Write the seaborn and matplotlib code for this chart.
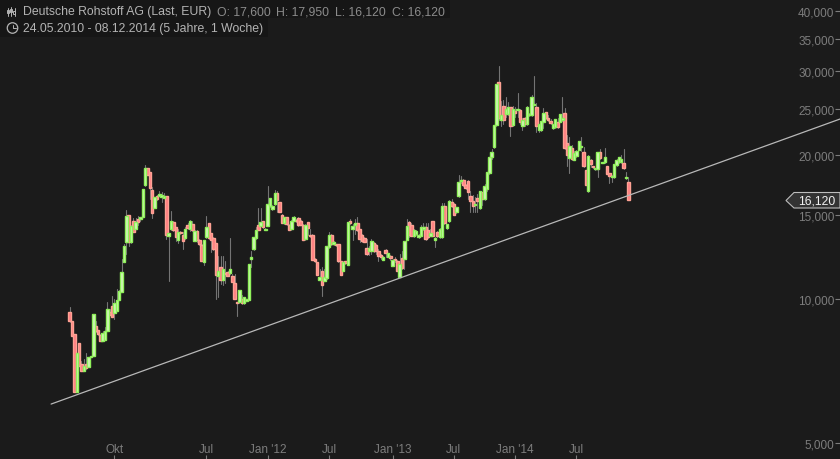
import matplotlib
matplotlib.use("Agg")
import matplotlib.pyplot as plt
from matplotlib.patches import Polygon, Rectangle, Ellipse
from matplotlib.lines import Line2D
import numpy as np
import pandas as pd
import seaborn as sns

opens = [9400,9000,8450,6390,8090,7310,7070,7310,7210,7570,7600,8780,8610,8410,8170,8210,8570,9400,9670,9350,
 9440,9950,10340,11950,13160,14980,13160,14550,14000,14700,14700,14840,17310,18780,18430,16900,15490,16420,16420,16340,
 16260,16420,13540,14000,14480,14140,13290,13800,13610,13410,14280,14000,14350,13220,13870,13290,12970,11950,13480,14420,
 13740,13410,13100,11170,11670,10960,11340,11390,11340,11170,10800,9860,9860,10000,9810,9900,9950,12120,12720,13410,
 14280,14210,14550,13940,14210,15650,15420,15800,16660,15950,14980,14420,14840,14280,14000,14550,14620,14770,14550,14280,
 13350,14480,13610,13610,12120,11950,10960,11450,10910,11060,12850,13610,13040,13040,13040,12010,11450,12010,11780,14550,
 14000,14280,14420,14000,13610,13410,12790,12600,12600,13100,12970,12600,12360,12070,12660,12250,12300,11730,12120,12010,
 11120,12190,12120,13290,14480,14280,13540,13670,13480,13540,14000,14140,13940,13540,14550,13290,13800,13480,13480,15650,
 14070,14550,15950,15800,15200,16420,17650,17730,17310,17650,16420,16030,15720,16260,15490,16740,16180,16980,18340,19810,
 20780,23110,28420,23670,25310,24360,24360,25190,23110,24710,24830,24830,23000,23900,23220,24250,24250,25440,25190,22550,
 22550,23440,24600,23900,23550,22770,22890,23440,23440,23670,24480,21190,19710,20680,19520,19900,20480,20780,20290,18600,
 16820,19520,18970,18690,18690,20290,19240,19340,18970,18340,17990,17990,19060,19340,19340,19240,17900,17600]
highs = [9630,9000,8450,7710,8090,7420,7490,7710,7570,7600,9310,9000,8610,8450,8570,8740,9860,9530,10150,10000,
 10490,10440,12120,13040,15350,14980,14280,14770,14770,14910,14840,16980,19060,18780,18430,17150,16340,16500,16820,16740,
 16660,16420,13740,15270,14550,14140,14000,13870,13800,14140,14420,14620,14550,13940,13940,13350,13040,13290,14910,14420,
 13740,13480,13100,12300,12300,12300,12010,11450,13410,11280,11280,9860,10440,10200,10100,10000,11840,12600,13480,14140,
 15490,15490,14550,14070,17230,16260,15720,16900,16820,15950,15060,14840,14840,14350,14620,14910,14700,14840,14620,14350,
 14350,14480,14000,13670,12190,11950,11550,11670,11550,12910,13800,13670,13220,13040,13040,12010,12010,12010,14480,14700,
 14350,14700,14840,14000,13670,13480,13350,12910,13350,13160,13040,12720,12420,12300,12720,12480,12360,12120,12250,12070,
 12420,12600,13220,14700,14550,14420,14000,13940,13670,14280,14420,14420,14420,14000,14550,13480,13870,14070,15870,15870,
 14350,16100,16180,15870,15570,18160,18080,17810,17400,17730,16820,16500,16340,16580,16820,16740,17400,18430,19810,20580,
 23110,28150,30680,25930,26050,26440,25810,25190,25310,25190,26950,24950,23900,24010,25310,24480,26690,29240,25680,23220,
 23550,25070,24600,24250,23780,23220,23780,23900,24360,26440,25070,22020,21810,20980,20390,20480,21390,21810,20780,18600,
 20000,19610,18970,18780,20290,20580,19340,20680,18970,18340,18160,19150,19610,19810,20000,20580,18430,17950]
lows = [8950,8370,6390,6390,7250,7070,7070,7140,7210,7570,7600,8530,8410,8170,8170,8210,8570,9260,9170,9080,
 9440,9950,10340,11950,12420,12910,13100,13800,14000,14280,14550,14840,17230,18160,16180,14770,15490,16100,16420,15950,
 16260,13350,10910,13940,13870,13220,13100,13670,12720,13350,14000,13870,13870,13220,13160,12970,12010,11780,13410,13350,
 12540,12660,10000,10100,10750,10700,10800,11170,11280,10850,10000,9220,9810,9770,9770,9900,9950,11670,12660,13350,
 13940,14210,14070,13940,14210,15570,15350,15720,15200,15200,14420,14350,14280,13940,13940,14550,14480,14210,14280,13290,
 13290,13610,13480,12070,11950,11230,10960,10150,10910,11010,12790,12970,12970,12910,11950,11230,11450,11840,11780,14350,
 13290,13670,13870,13160,13160,13160,12360,12360,12420,12540,12420,12010,12120,12070,12250,12250,12070,11730,11950,11450,
 11120,11550,11550,13290,13480,13540,13480,13610,13410,13540,13940,13290,13410,13540,13540,12850,13480,13410,13410,14350,
 14000,14480,15570,14980,15130,16340,17480,17230,16980,16180,15200,15200,15200,15200,15420,15720,16100,16820,18250,19610,
 20680,23000,23670,23000,23220,24010,24250,21910,23000,24010,24010,23220,22550,23000,23110,24130,24130,25440,22340,22340,
 22450,22770,23780,23550,23220,22660,22770,22770,23440,23550,20580,18970,18340,19520,19520,19810,20480,20390,18880,17310,
 16740,18880,18780,18600,17990,19610,19240,19240,18250,17480,17560,17900,18970,19240,19240,18690,17810,16120]
closes = [9000,8370,6390,7710,7250,7070,7250,7180,7570,7600,9310,8570,8450,8170,8490,8570,9530,9260,9170,9810,
 9950,10390,11390,12910,14910,13160,14210,13800,14480,14480,14840,16980,18780,18160,17060,15130,16340,16180,16580,16500,
 16420,13610,13740,14550,13940,13480,13800,13740,13220,14000,14070,14550,13940,13870,13290,13040,12010,13290,14140,13410,
 13290,12720,11230,11450,10960,11550,11280,11170,11550,10850,10000,9810,10440,9810,10100,10000,11840,12250,13480,13940,
 13940,14480,14140,14000,15800,16260,15650,16660,16100,15200,14420,14840,14350,13940,14550,14840,14550,14280,14280,13290,
 14280,14070,13540,12070,12010,11230,11120,10700,11120,12910,13610,13040,13160,12970,12010,11230,11950,11900,14480,14420,
 14210,14420,13940,13350,13220,13160,12420,12790,13220,12600,12600,12300,12250,12250,12480,12480,12190,12070,12070,11450,
 11840,11610,13220,14210,13610,13540,13940,13870,13610,14140,14140,13350,13480,13740,13540,13410,13540,14000,15650,14420,
 14350,16030,15650,14980,15570,17560,17730,17310,17060,16740,16030,15650,15800,16030,16820,16180,17230,18430,19810,20290,
 23110,28150,23900,24250,23670,24950,25190,23000,24950,24480,24950,23440,23670,23220,25190,24360,26440,25560,23000,23220,
 23550,24480,23900,23670,23330,23220,23780,22890,24360,23900,20680,20000,20880,19610,20190,20390,21390,20880,18970,17310,
 19900,19150,18880,18780,20290,19710,19340,19810,18250,18080,18080,19150,19520,19810,19610,18780,17990,16120]

tick_weeks = [19, 58, 84, 110, 137, 163, 189, 215]
tick_names = ["Okt", "Jul", "Jan '12", "Jul", "Jan '13", "Jul", "Jan '14", "Jul"]
price_ticks = [5000, 10000, 15000, 20000, 25000, 30000, 35000, 40000]
trend_weeks = [-7.9, 326.8]
trend_prices = [6030, 23780]
last_close = 16120

BG = "#1b1b1b"
sns.set_theme(style="dark", rc={"axes.facecolor": BG, "figure.facecolor": BG, "axes.grid": False})
plt.rcParams["font.family"] = ["Liberation Sans", "DejaVu Sans"]

df = pd.DataFrame({"week": range(len(opens)), "open": opens, "high": highs, "low": lows, "close": closes})
df["base"] = df[["open", "close"]].min(axis=1)
df["height"] = (df["open"] - df["close"]).abs().clip(lower=25)
df["up"] = df["close"] >= df["open"]

fig = plt.figure(figsize=(8.4, 4.6), dpi=100)
ax = fig.add_axes([0, 0, 1, 1])
ax.set_yscale("log")

wicks = df.melt(id_vars="week", value_vars=["high", "low"], value_name="price")
sns.lineplot(data=wicks, x="week", y="price", units="week", estimator=None, color="#747474",
             linewidth=0.8, ax=ax, legend=False, zorder=2)
for flag, edge, face in [(False, "#ffa294", "#ff7d82"), (True, "#8ff05a", "#d4f7bd")]:
    part = df[df["up"] == flag]
    sns.barplot(x=part["week"].to_numpy(), y=part["height"].to_numpy(), bottom=part["base"].to_numpy(),
                native_scale=True, width=1.05, color=face, saturation=1, edgecolor=edge, linewidth=1.0,
                errorbar=None, ax=ax, zorder=3)
sns.lineplot(x=trend_weeks, y=trend_prices, color="#b8b8b8", linewidth=0.9, ax=ax, zorder=4)

ax.set_xlim(-29.57, 326.8)
ax.set_ylim(4629, 42380)
ax.set_xlabel("")
ax.set_ylabel("")
for s in ax.spines.values():
    s.set_visible(False)

ax.yaxis.tick_right()
ax.set_yticks(price_ticks, [f"{p:,}" for p in price_ticks])
ax.minorticks_off()
ax.tick_params(axis="y", which="major", right=True, direction="in", length=3.5, width=0.8, color="#7d7d7d",
               labelcolor="#7d7d7d", labelsize=8.5, pad=-4)
ax.set_xticks(tick_weeks, tick_names)
ax.tick_params(axis="x", which="major", bottom=True, direction="in", length=3, width=0.8, color="#7d7d7d",
               labelcolor="#7d7d7d", labelsize=8.5, pad=-2.8)
plt.setp(ax.get_yticklabels(), ha="right")
plt.setp(ax.get_xticklabels(), va="bottom")

W, H = 840, 460
def px(x, y):
    return (x / W, 1 - y / H)

tf = fig.transFigure
fig.patches.append(Rectangle(px(0, 19), 450 / W, 19 / H, transform=tf, fc="#161616", ec="none", zorder=0.5))
fig.patches.append(Rectangle(px(0, 38), 268 / W, 19 / H, transform=tf, fc="#161616", ec="none", zorder=0.5))

hdr = dict(fontsize=8.85, va="center", ha="left", color="#b4b4b4", zorder=10)
fig.text(*px(23, 12.5), "Deutsche Rohstoff AG (Last, EUR)", **hdr)
for x, t in [(217, "O: 17,600"), (276, "H: 17,950"), (335, "L: 16,120"), (392, "C: 16,120")]:
    fig.text(*px(x, 12.5), t, **{**hdr, "color": "#8c8c8c"})
fig.text(*px(23, 29), "24.05.2010 - 08.12.2014 (5 Jahre, 1 Woche)", **hdr)

# header icons
for x, y0, y1, b0, b1 in [(7.5, 9, 17, 11, 14), (11, 8, 17, 10, 13), (14.5, 9, 17, 12, 15)]:
    fig.add_artist(Line2D([x / W, x / W], [1 - y0 / H, 1 - y1 / H], transform=tf, color="#b4b4b4", lw=0.7))
    fig.add_artist(Rectangle(px(x - 1, b1), 2 / W, (b1 - b0) / H, transform=tf, fc="none", ec="#b4b4b4", lw=0.7))
fig.add_artist(Line2D([12.5 / W, 12.5 / W, 15.5 / W], [1 - 25.5 / H, 1 - 29 / H, 1 - 29 / H],
                      transform=tf, color="#b4b4b4", lw=0.7))
fig.add_artist(Ellipse(px(12.5, 29), 10.5 / W, 10.5 / H, transform=tf, fc="none", ec="#b4b4b4", lw=0.9))

# last price marker
pts = [px(786, 201.5), px(794, 193.5), px(840, 193.5), px(840, 209), px(794, 209)]
fig.add_artist(Polygon(pts, closed=True, transform=tf, fc="#333333", ec="#bdbdbd", lw=0.8, zorder=8))
fig.text(*px(817, 201.5), f"{last_close:,}", color="#f0f0f0", fontsize=8.8, ha="center", va="center", zorder=9)

fig.savefig("out.png", dpi=100, facecolor=BG)
